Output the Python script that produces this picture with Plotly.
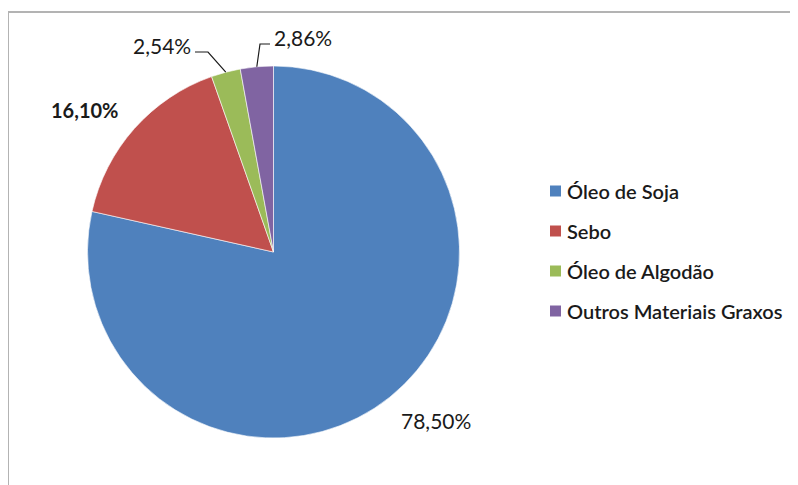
import math
import plotly.graph_objects as go

# ---- data ----
categories = ["Óleo de Soja", "Sebo", "Óleo de Algodão", "Outros Materiais Graxos"]
values = [78.50, 16.10, 2.54, 2.86]
colors = ["#4F81BD", "#C0504D", "#9BBB59", "#8064A2"]

# page body has an 8px margin; work in window pixels and convert
OFF = 8
W, H = 798 - OFF, 485 - OFF
FONT = "Lato"

def px(x):
    return (x - OFF) / W

def py(y):
    return 1 - (y - OFF) / H

# pie geometry (window pixels)
cx, cy, r = 273.5, 252.0, 186.0

fig = go.Figure()
fig.add_trace(go.Pie(
    labels=categories,
    values=values,
    marker=dict(colors=colors, line=dict(color="rgba(255,255,255,0.6)", width=1)),
    sort=False,
    direction="clockwise",
    rotation=0,
    textinfo="none",
    hoverinfo="label+percent",
    showlegend=False,
    domain=dict(x=[px(cx - r), px(cx + r)], y=[py(cy + r), py(cy - r)]),
))

# mid angles of slices (degrees clockwise from 12 o'clock)
total = sum(values)
mids = []
acc = 0.0
for v in values:
    mids.append((acc + v / 2) / total * 360)
    acc += v

def edge(angle_deg):
    a = math.radians(angle_deg)
    return cx + r * math.sin(a), cy - r * math.cos(a)

def fmt(v):
    return f"{v:.2f}".replace(".", ",") + "%"

# label placement (layout, window pixels)
label_pos = [(436, 420, "center"), (84, 110, "center"), (193, 45, "right"), (272, 38, "left")]
label_bold = [False, True, False, False]
# leader lines: elbow + end points for the small slices (index -> points)
leaders = {2: [(208, 52), (195, 52)], 3: [(260, 44), (270, 44)]}

annotations = []
shapes = []
for i, v in enumerate(values):
    x, y, anchor = label_pos[i]
    txt = fmt(v)
    size = 21
    if label_bold[i]:
        txt = f"<b>{txt}</b>"
        size = 20
    annotations.append(dict(
        x=px(x), y=py(y), xref="paper", yref="paper",
        text=txt, showarrow=False, xanchor=anchor, yanchor="middle",
        font=dict(family=FONT, size=size, color="#1a1a1a"),
    ))
    if i in leaders:
        ex, ey = edge(mids[i])
        pts = [(ex, ey)] + leaders[i]
        path = "M " + " L ".join(f"{px(a)},{py(b)}" for a, b in pts)
        shapes.append(dict(type="path", path=path, xref="paper", yref="paper",
                           line=dict(color="#1a1a1a", width=1.2)))

# manual legend
leg_x0, leg_y0, leg_dy, sq = 550, 191, 40, 11
for i, (cat, col) in enumerate(zip(categories, colors)):
    yy = leg_y0 + i * leg_dy
    shapes.append(dict(type="rect", xref="paper", yref="paper",
                       x0=px(leg_x0), x1=px(leg_x0 + sq),
                       y0=py(yy + sq / 2), y1=py(yy - sq / 2),
                       fillcolor=col, line=dict(width=0)))
    annotations.append(dict(
        x=px(leg_x0 + sq + 4), y=py(yy), xref="paper", yref="paper",
        text=cat, showarrow=False, xanchor="left", yanchor="middle",
        font=dict(family=FONT, size=20, color="#1a1a1a", weight=600),
    ))

# chart border (top and left visible)
shapes.append(dict(type="rect", xref="paper", yref="paper",
                   x0=px(8), x1=1.05, y0=-0.05, y1=py(12),
                   line=dict(color="#b3b3b3", width=2), fillcolor="rgba(0,0,0,0)"))

fig.update_layout(
    width=W, height=H,
    margin=dict(l=0, r=0, t=0, b=0),
    paper_bgcolor="white",
    plot_bgcolor="white",
    annotations=annotations,
    shapes=shapes,
    showlegend=False,
)

fig.write_html("out.html")
